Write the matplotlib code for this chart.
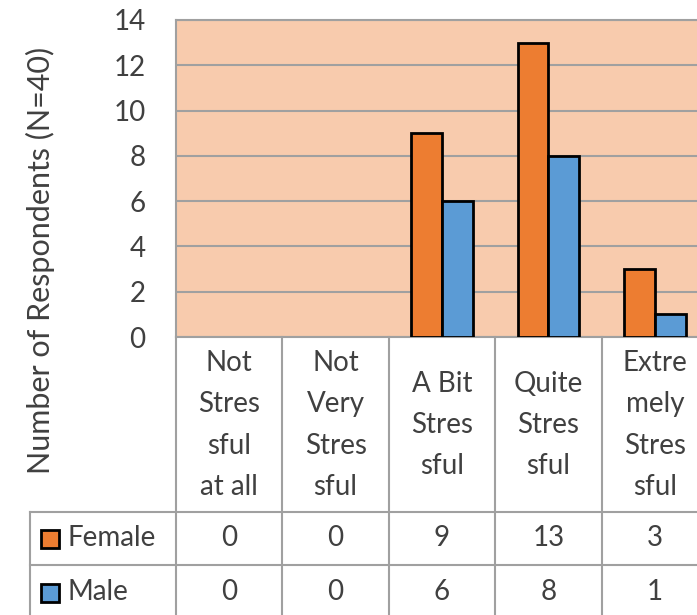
import numpy as np
import matplotlib.pyplot as plt
from matplotlib.transforms import blended_transform_factory
from matplotlib.lines import Line2D

# data
categories = ["Not\nStres\nsful\nat all", "Not\nVery\nStres\nsful",
              "A Bit\nStres\nsful", "Quite\nStres\nsful",
              "Extre\nmely\nStres\nsful"]
female = [0, 0, 9, 13, 3]
male = [0, 0, 6, 8, 1]
series_names = ["Female", "Male"]
yticks = [0, 2, 4, 6, 8, 10, 12, 14]

plt.rcParams['font.family'] = ['Lato', 'DejaVu Sans']
txt_col = '#404040'
grid_col = '#a0a0a0'
c_f = '#ed7d31'
c_m = '#5b9bd5'
fs = 20

W, H = 697, 615
fig = plt.figure(figsize=(W / 100, H / 100), dpi=100)

def fx(x):
    return x / W

def fy(y):
    return 1 - y / H

# plot area (runs off the right edge like the original crop)
ax = fig.add_axes([fx(176), fy(337), fx(708) - fx(176), fy(20) - fy(337)])
ax.set_facecolor('#f8cbad')
x = np.arange(len(categories))
w = 0.29
for vals, col, off in [(female, c_f, -w / 2), (male, c_m, w / 2)]:
    edges = ['black' if v > 0 else 'none' for v in vals]
    ax.bar(x + off, vals, w, color=col, edgecolor=edges, linewidth=2, zorder=3)
ax.set_xlim(-0.5, len(categories) - 0.5)
ax.set_ylim(0, 14)
ax.set_yticks(yticks)
ax.set_yticklabels([str(t) for t in yticks], fontsize=fs, color=txt_col)
ax.tick_params(axis='y', length=0, pad=22)
ax.set_xticks([])
ax.grid(axis='y', color=grid_col, linewidth=1.5, zorder=0)
for s in ax.spines.values():
    s.set_color(grid_col)
    s.set_linewidth(1.5)
fig.text(fx(40), fy(260), "Number of Respondents (N=40)", rotation=90,
         ha='center', va='center', fontsize=22, color=txt_col)

# data table under the chart
tr = blended_transform_factory(ax.transData, fig.transFigure)
row_tops = [337, 512, 565, 620]
for yy in row_tops[1:]:
    fig.add_artist(Line2D([fx(30), 1.05], [fy(yy), fy(yy)], color=grid_col, lw=1.5))
fig.add_artist(Line2D([fx(30), fx(30)], [fy(512), fy(620)], color=grid_col, lw=1.5))
for i in range(len(categories)):
    xb = i + 0.5
    ax.plot([xb, xb], [fy(337), fy(620)], color=grid_col, lw=1.5,
            transform=tr, clip_on=False)
fig.add_artist(Line2D([fx(176), fx(176)], [fy(337), fy(620)], color=grid_col, lw=1.5))

for i, lab in enumerate(categories):
    ax.text(i, fy(425), lab, transform=tr, ha='center', va='center',
            fontsize=fs, color=txt_col, linespacing=1.72)
for r, (vals, name, col) in enumerate(zip([female, male], series_names, [c_f, c_m])):
    yc = fy((row_tops[r + 1] + row_tops[r + 2]) / 2)
    for i, v in enumerate(vals):
        ax.text(i, yc, str(v), transform=tr, ha='center', va='center',
                fontsize=fs, color=txt_col)
    fig.add_artist(Line2D([fx(50)], [yc], marker='s', markersize=13,
                          markerfacecolor=col, markeredgecolor='black',
                          markeredgewidth=2))
    fig.text(fx(68), yc, name, ha='left', va='center', fontsize=fs, color=txt_col)

fig.savefig("out.png", dpi=100)
